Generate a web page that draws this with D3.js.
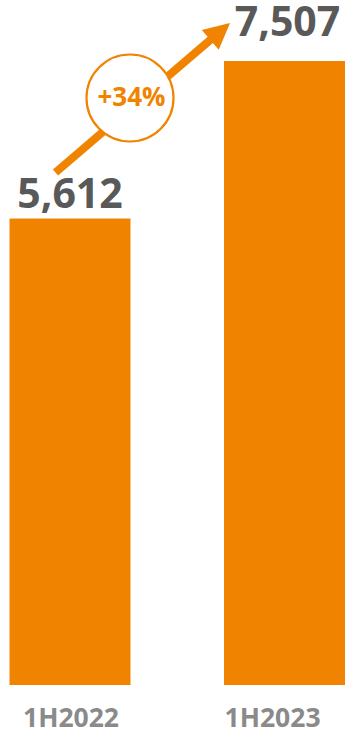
<!DOCTYPE html>
<html>
<head>
<meta charset="utf-8">
<script src="https://cdn.jsdelivr.net/npm/d3@7/dist/d3.min.js"></script>
<style>
  html, body { margin: 0; padding: 0; background: #ffffff; }
  svg { display: block; }
</style>
</head>
<body>
<svg id="chart" width="350" height="734"></svg>
<script>
// Half-year totals
const categories = ["1H2022", "1H2023"];
const values = [5612, 7507];
const growthLabel = "+34%";

const W = 350, H = 734;
const orange = "#F08300";
const valueColor = "#595959";
const axisColor = "#8A8A8A";
const font = "'Open Sans', 'Noto Sans', sans-serif";

const svg = d3.select("#chart");

const x = d3.scaleBand()
  .domain(categories)
  .range([9.5, 345])
  .paddingInner(0.436)
  .paddingOuter(0);

const y = d3.scaleLinear()
  .domain([0, d3.max(values)])
  .range([685, 61]);

// Bars
svg.append("g")
  .selectAll("rect")
  .data(categories)
  .join("rect")
  .attr("x", d => x(d))
  .attr("y", (d, i) => y(values[i]))
  .attr("width", x.bandwidth())
  .attr("height", (d, i) => y(0) - y(values[i]))
  .attr("fill", orange);

// Value labels above the bars
const labelGap = [11, 25];
svg.append("g")
  .selectAll("text")
  .data(categories)
  .join("text")
  .attr("x", (d, i) => x(d) + x.bandwidth() / 2 + (i === 0 ? 0 : 3))
  .attr("y", (d, i) => y(values[i]) - labelGap[i])
  .attr("text-anchor", "middle")
  .attr("font-family", font)
  .attr("font-weight", 700)
  .attr("font-size", 41)
  .attr("fill", valueColor)
  .text((d, i) => d3.format(",")(values[i]));

// Category axis labels (no axis line or ticks)
const xAxis = svg.append("g")
  .attr("transform", `translate(0,${y(0)})`)
  .call(d3.axisBottom(x).tickSize(0).tickPadding(0));
xAxis.select(".domain").remove();
xAxis.selectAll("text")
  .attr("y", 42)
  .attr("dy", 0)
  .attr("dx", (d, i) => (i === 0 ? 1 : -12))
  .attr("font-family", font)
  .attr("font-weight", 700)
  .attr("font-size", 26.5)
  .attr("fill", axisColor);

// Growth arrow from the first label towards the second
const x0 = x(categories[0]) + x.bandwidth() * 0.38;
const y0 = y(values[0]) - 46;
const x1 = x(categories[1]) + 6;
const y1 = y(values[1]) - 38;
const ang = Math.atan2(y1 - y0, x1 - x0);
const headLen = 26, headHalf = 13;
const bx = x1 - headLen * Math.cos(ang), by = y1 - headLen * Math.sin(ang);

svg.append("line")
  .attr("x1", x0).attr("y1", y0)
  .attr("x2", bx + 2 * Math.cos(ang)).attr("y2", by + 2 * Math.sin(ang))
  .attr("stroke", orange)
  .attr("stroke-width", 8);

svg.append("path")
  .attr("d", d3.line()([
    [x1, y1],
    [bx - headHalf * Math.sin(ang), by + headHalf * Math.cos(ang)],
    [bx + headHalf * Math.sin(ang), by - headHalf * Math.cos(ang)]
  ]) + "Z")
  .attr("fill", orange);

// Growth badge
const cx = 130, cy = 98;
svg.append("circle")
  .attr("cx", cx).attr("cy", cy).attr("r", 43.5)
  .attr("fill", "#ffffff")
  .attr("stroke", orange)
  .attr("stroke-width", 2.2);

svg.append("text")
  .attr("x", cx + 1.5)
  .attr("y", cy + 8)
  .attr("text-anchor", "middle")
  .attr("font-family", font)
  .attr("font-weight", 700)
  .attr("font-size", 26)
  .attr("fill", orange)
  .text(growthLabel);
</script>
</body>
</html>
